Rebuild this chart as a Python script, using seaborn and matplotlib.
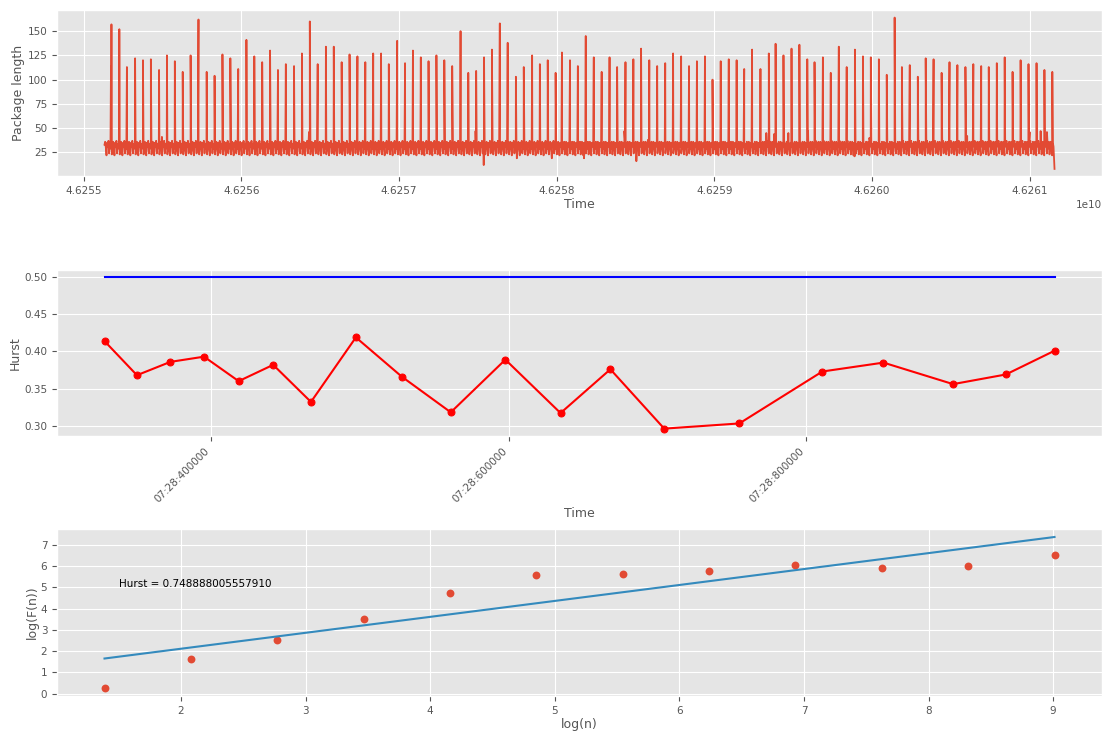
import numpy as np
import pandas as pd
import matplotlib
matplotlib.use("Agg")
import matplotlib.pyplot as plt
import matplotlib.dates as mdates
from matplotlib.ticker import MultipleLocator
import seaborn as sns

# ---------------- packet trace (time in raw capture units) ----------------
trace_origin = 46_255_000_000          # 4.6255e10
unit = 1000                            # offsets below are in thousands of units
trace_start = 133
trace_end = 6158

# large packets: offset and length
spike_offset = [
    177, 227, 275, 327, 377, 427, 479, 529, 579, 629,
    679, 729, 781, 831, 881, 931, 981, 1033, 1083, 1133,
    1183, 1233, 1283, 1335, 1385, 1435, 1485, 1537, 1587, 1637,
    1687, 1737, 1787, 1837, 1887, 1936, 1989, 2039, 2089, 2139,
    2188, 2238, 2288, 2338, 2391, 2440, 2490, 2540, 2590, 2640,
    2690, 2742, 2792, 2845, 2894, 2944, 2994,
    3034, 3085, 3135, 3185, 3236, 3286, 3336, 3384, 3437, 3487,
    3536, 3588, 3638, 3689, 3739, 3790, 3840, 3890, 3941, 3989,
    4041, 4092, 4142, 4190, 4240, 4293, 4346, 4389, 4439, 4490,
    4540, 4590, 4636, 4689, 4739, 4790, 4840, 4892, 4943, 4993,
    5044, 5094, 5144, 5190, 5240, 5291, 5341, 5391, 5442, 5492,
    5542, 5593, 5643, 5693, 5741, 5792, 5842, 5892, 5943, 5993,
    6044, 6094, 6144,
]
spike_length = [
    157, 152, 113, 122, 120, 121, 110, 125, 119, 108,
    125, 162, 108, 104, 126, 122, 111, 141, 124, 118,
    130, 110, 116, 114, 127, 160, 116, 134, 134, 118,
    126, 124, 118, 127, 127, 116, 140, 117, 130, 123,
    119, 125, 120, 114, 150, 107, 109, 123, 131, 158,
    138, 103, 113, 125, 116, 120, 107,
    128, 120, 114, 145, 123, 108, 123, 113, 118, 121,
    132, 120, 114, 117, 127, 124, 114, 119, 124, 100,
    119, 121, 120, 111, 131, 111, 127, 137, 125, 132,
    136, 121, 118, 123, 107, 134, 113, 131, 124, 123,
    121, 105, 164, 113, 115, 103, 122, 121, 107, 118,
    115, 113, 116, 114, 113, 117, 123, 108, 120, 116,
    117, 110, 108,
]

# small control packets repeating between the large ones
small_packet_cycle = [33, 36, 30, 22, 35, 31, 37, 24, 34, 29, 36, 23]
small_packet_step = 4.2

# occasional medium / short packets
extra_offset = [174, 497, 1430, 2486, 2538, 2748, 2970, 3174, 3430, 3506,
                3580, 4330, 4380, 4470, 4595, 4890, 4984, 5604, 6000, 6070, 6110]
extra_length = [114, 41, 46, 47, 12, 19, 19, 19, 47, 16,
                38, 45, 44, 45, 47, 21, 40, 42, 46, 47, 46]
final_length = 8

# ---------------- Hurst exponent over sliding windows ----------------
hurst_seconds = [28.3281, 28.3499, 28.3724, 28.3950, 28.4183, 28.4415, 28.4669,
                 28.4971, 28.5280, 28.5609, 28.5976, 28.6347, 28.6682, 28.7044,
                 28.7549, 28.8107, 28.8518, 28.8986, 28.9341, 28.9668]
hurst_values = [0.414, 0.368, 0.386, 0.393, 0.360, 0.382, 0.332, 0.419, 0.366,
                0.318, 0.389, 0.317, 0.376, 0.296, 0.303, 0.373, 0.385, 0.356,
                0.369, 0.401]
hurst_reference = 0.5

# ---------------- DFA fluctuation function ----------------
window_sizes = [4, 8, 16, 32, 64, 128, 256, 512, 1024, 2048, 4096, 8192]
log_fluct = [0.25, 1.61, 2.50, 3.52, 4.73, 5.59, 5.63, 5.77, 6.05, 5.91, 6.02, 6.50]
hurst_fit = 0.748888005557910

# ---------------- style ----------------
plt.style.use("ggplot")
plt.rcParams["font.family"] = ["DejaVu Sans"]
plt.rcParams["font.size"] = 7.5
plt.rcParams["axes.labelsize"] = 9
plt.rcParams["axes.labelpad"] = 1.5

fig, (ax1, ax2, ax3) = plt.subplots(3, 1, figsize=(11.07, 7.31), dpi=100)
fig.subplots_adjust(left=0.0515, right=0.9955, top=0.9863, bottom=0.0480, hspace=0.56)

# ---- trace assembly ----
small_t = np.arange(trace_start, trace_end - 3, small_packet_step)
small_v = [small_packet_cycle[i % len(small_packet_cycle)] for i in range(len(small_t))]
t_all = np.concatenate([small_t, spike_offset, extra_offset, [trace_end]])
v_all = np.concatenate([small_v, spike_length, extra_length, [final_length]])
order = np.argsort(t_all, kind="stable")
trace = pd.DataFrame({
    "Time": trace_origin + t_all[order] * unit,
    "Package length": v_all[order],
})

sns.lineplot(data=trace, x="Time", y="Package length", ax=ax1,
             color="#E24A33", linewidth=1.3, estimator=None, sort=False)
ax1.xaxis.set_major_locator(MultipleLocator(1e6))
ax1.ticklabel_format(axis="x", style="sci", useOffset=False)
ax1.set_xlabel("Time")
ax1.set_ylabel("Package length")

# ---- Hurst over time ----
base = pd.Timestamp("1970-01-01 00:07:00")
hurst_df = pd.DataFrame({
    "Time": base + pd.to_timedelta(hurst_seconds, unit="s"),
    "Hurst": hurst_values,
})
ref_df = pd.DataFrame({
    "Time": [hurst_df["Time"].iloc[0], hurst_df["Time"].iloc[-1]],
    "Hurst": [hurst_reference, hurst_reference],
})
sns.lineplot(data=ref_df, x="Time", y="Hurst", ax=ax2, color="blue", linewidth=1.5)
sns.lineplot(data=hurst_df, x="Time", y="Hurst", ax=ax2, color="red", linewidth=1.5,
             marker="o", markersize=5, markeredgecolor="red", estimator=None)
ax2.xaxis.set_major_locator(mdates.MicrosecondLocator(interval=200000))
ax2.xaxis.set_major_formatter(mdates.DateFormatter("%M:%S:%f"))
plt.setp(ax2.get_xticklabels(), rotation=45, ha="right")
ax2.set_xlabel("Time")
ax2.set_ylabel("Hurst")

# ---- fluctuation fit ----
log_n = np.log(window_sizes)
fluct = np.array(log_fluct)
sns.scatterplot(x=log_n, y=fluct, ax=ax3, color="#E24A33", s=32, linewidth=0)
intercept = fluct.mean() - hurst_fit * log_n.mean()
fit_x = np.array([log_n.min(), log_n.max()])
sns.lineplot(x=fit_x, y=hurst_fit * fit_x + intercept, ax=ax3, color="#348ABD", linewidth=1.5)
ax3.text(1.5, 5.03, f"Hurst = {hurst_fit:.15f}", fontsize=7.5, color="black")
ax3.yaxis.set_major_locator(MultipleLocator(1))
ax3.set_xlabel("log(n)")
ax3.set_ylabel("log(F(n))")

fig.savefig("out.png", dpi=100)
